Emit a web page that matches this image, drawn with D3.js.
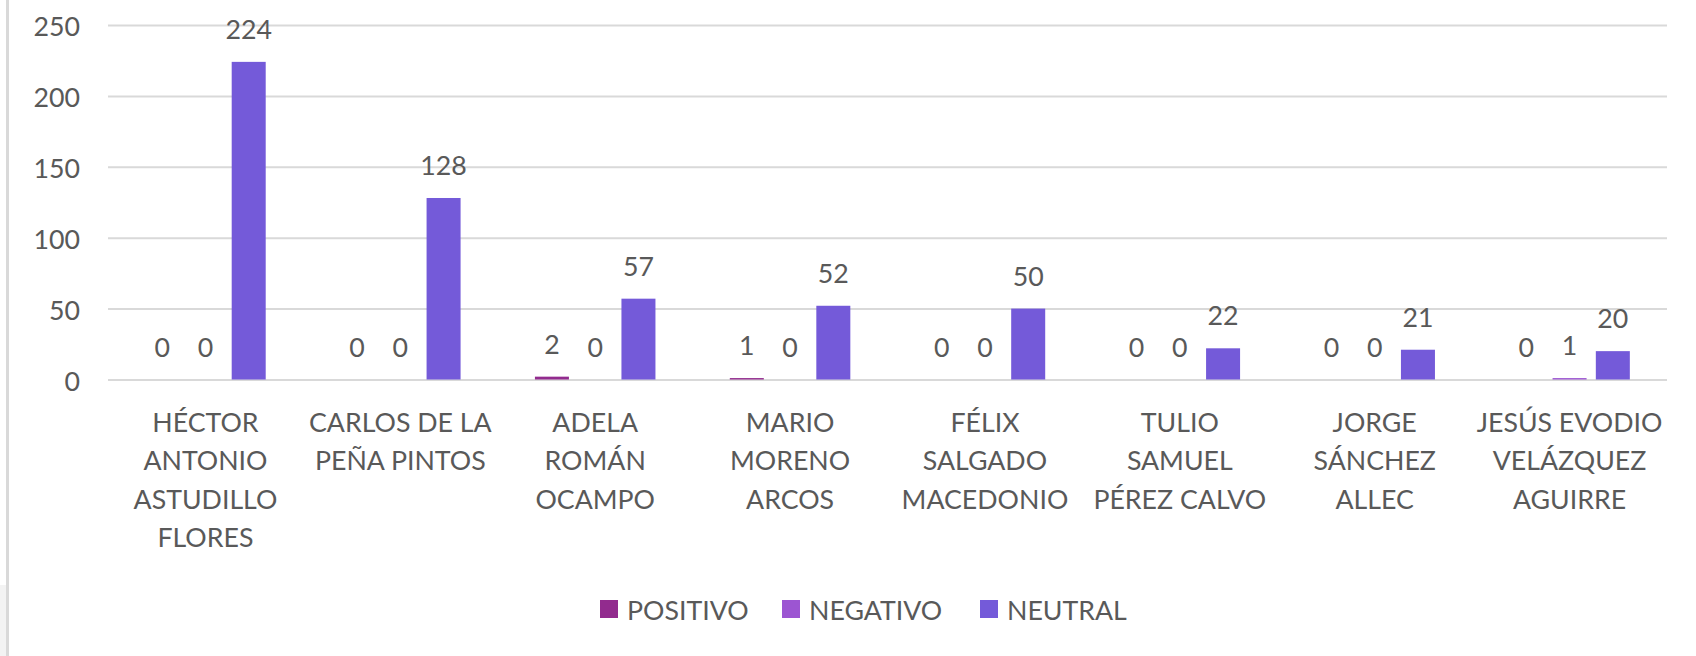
<!DOCTYPE html>
<html>
<head>
<meta charset="utf-8">
<script src="https://cdn.jsdelivr.net/npm/d3@7"></script>
<style>
  html, body { margin: 0; padding: 0; background: #ffffff; }
  svg { display: block; }
  text { font-family: Lato, "Open Sans", sans-serif; fill: #595959; }
</style>
</head>
<body>
<svg id="chart" width="1696" height="656"></svg>
<script>
// ---- data ----
const categories = [
  "HÉCTOR ANTONIO ASTUDILLO FLORES",
  "CARLOS DE LA PEÑA PINTOS",
  "ADELA ROMÁN OCAMPO",
  "MARIO MORENO ARCOS",
  "FÉLIX SALGADO MACEDONIO",
  "TULIO SAMUEL PÉREZ CALVO",
  "JORGE SÁNCHEZ ALLEC",
  "JESÚS EVODIO VELÁZQUEZ AGUIRRE"
];
const categoryLines = [
  ["HÉCTOR", "ANTONIO", "ASTUDILLO", "FLORES"],
  ["CARLOS DE LA", "PEÑA PINTOS"],
  ["ADELA", "ROMÁN", "OCAMPO"],
  ["MARIO", "MORENO", "ARCOS"],
  ["FÉLIX", "SALGADO", "MACEDONIO"],
  ["TULIO", "SAMUEL", "PÉREZ CALVO"],
  ["JORGE", "SÁNCHEZ", "ALLEC"],
  ["JESÚS EVODIO", "VELÁZQUEZ", "AGUIRRE"]
];
const seriesNames = ["POSITIVO", "NEGATIVO", "NEUTRAL"];
const positivo = [0, 0, 2, 1, 0, 0, 0, 0];
const negativo = [0, 0, 0, 0, 0, 0, 0, 1];
const neutral  = [224, 128, 57, 52, 50, 22, 21, 20];
const yTicks = [0, 50, 100, 150, 200, 250];
const seriesColors = ["#922B8E", "#9C55D2", "#745AD9"];

// ---- layout ----
const svg = d3.select("#chart");
const W = 1696, H = 656;
const plot = { left: 108, right: 1667, top: 25, bottom: 379.5 };
const fontSize = 27;
const sx = 0.99;

const seriesData = [positivo, negativo, neutral];

// border / backdrop
svg.append("rect").attr("x", 0).attr("y", 585).attr("width", 6).attr("height", H - 585).attr("fill", "#F3F3F3");
svg.append("line").attr("x1", 7.5).attr("x2", 7.5).attr("y1", 0).attr("y2", H)
  .attr("stroke", "#D9D9D9").attr("stroke-width", 3);

const x = d3.scaleBand().domain(categories).range([plot.left, plot.right]).padding(0);
const bw = x.bandwidth();
const xs = d3.scalePoint().domain(seriesNames).range([-0.222 * bw, 0.222 * bw]);
const barW = 0.1745 * bw;
const y = d3.scaleLinear().domain([0, 250]).range([plot.bottom, plot.top]);

// y axis with gridlines
const yAxis = d3.axisLeft(y).tickValues(yTicks).tickSize(-(plot.right - plot.left)).tickPadding(28);
const gy = svg.append("g").attr("transform", `translate(${plot.left},0)`).call(yAxis);
gy.select(".domain").remove();
gy.selectAll(".tick line").attr("stroke", "#D9D9D9").attr("stroke-width", 2);
gy.selectAll(".tick text")
  .attr("font-size", fontSize)
  .attr("dy", null)
  .attr("dominant-baseline", "central")
  .attr("fill", "#595959")
  .each(function() {
    const t = d3.select(this);
    const xx = +t.attr("x");
    t.attr("x", 0).attr("transform", `translate(${xx},0) scale(${sx},1)`);
  });

// bars
seriesNames.forEach((s, si) => {
  const g = svg.append("g");
  g.selectAll("rect").data(seriesData[si]).join("rect")
    .attr("x", (d, i) => x(categories[i]) + bw / 2 + xs(s) - barW / 2)
    .attr("width", barW)
    .attr("y", d => y(d))
    .attr("height", d => y(0) - y(d))
    .attr("fill", seriesColors[si]);
  g.selectAll("text").data(seriesData[si]).join("text")
    .attr("transform", (d, i) => `translate(${x(categories[i]) + bw / 2 + xs(s)},${y(d) - 23}) scale(${sx},1)`)
    .attr("text-anchor", "middle")
    .attr("font-size", fontSize)
    .text(d => d);
});

// x axis labels
const xAxis = d3.axisBottom(x).tickSize(0).tickFormat("");
const gx = svg.append("g").attr("transform", `translate(0,${plot.bottom})`).call(xAxis);
gx.select(".domain").remove();
gx.selectAll(".tick").each(function(d, i) {
  const t = d3.select(this).append("text")
    .attr("text-anchor", "middle")
    .attr("font-size", fontSize)
    .attr("transform", `translate(0,${432 - plot.bottom}) scale(${sx},1)`)
    .attr("fill", "#595959");
  categoryLines[i].forEach((ln, k) => {
    t.append("tspan").attr("x", 0).attr("y", k * 38.3).text(ln);
  });
});

// legend
const legendX = [600, 782, 980];
const lg = svg.append("g");
seriesNames.forEach((s, i) => {
  lg.append("rect").attr("x", legendX[i]).attr("y", 600).attr("width", 18).attr("height", 18).attr("fill", seriesColors[i]);
  lg.append("text")
    .attr("transform", `translate(${legendX[i] + 27},609) scale(${sx},1)`)
    .attr("dominant-baseline", "central")
    .attr("font-size", fontSize)
    .text(s);
});
</script>
</body>
</html>
